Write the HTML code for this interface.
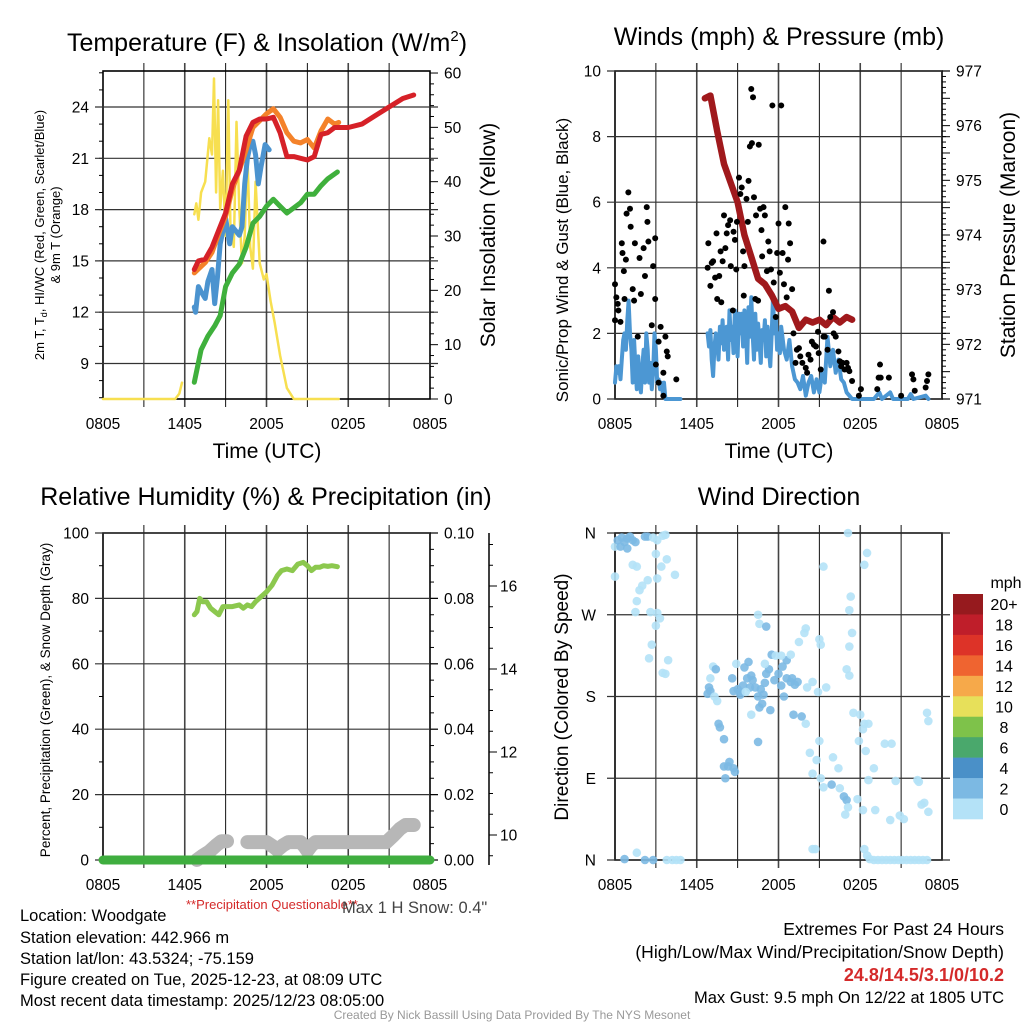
<!DOCTYPE html>
<html><head><meta charset="utf-8"><style>
html,body{margin:0;padding:0;background:#fff;}
svg{display:block;font-family:"Liberation Sans",Arial,sans-serif;}
</style></head><body>
<svg id="chart" width="1024" height="1024" viewBox="0 0 1024 1024" xmlns="http://www.w3.org/2000/svg">
<text x="267" y="51" font-size="25" text-anchor="middle">Temperature (F) &amp; Insolation (W/m<tspan font-size="15" dy="-10">2</tspan><tspan dy="10">)</tspan></text>
<text x="779" y="45" font-size="25" text-anchor="middle">Winds (mph) &amp; Pressure (mb)</text>
<text x="266" y="505" font-size="25" text-anchor="middle">Relative Humidity (%) &amp; Precipitation (in)</text>
<text x="779" y="505" font-size="25" text-anchor="middle">Wind Direction</text>
<text x="267" y="458" font-size="21" text-anchor="middle">Time (UTC)</text>
<text x="779" y="458" font-size="21" text-anchor="middle">Time (UTC)</text>
<text transform="translate(44,235) rotate(-90)" font-size="13" text-anchor="middle">2m T, T<tspan font-size="9" dy="3">d</tspan><tspan dy="-3">, HI/WC (Red, Green, Scarlet/Blue)</tspan></text>
<text transform="translate(60,235) rotate(-90)" font-size="13" text-anchor="middle">&amp; 9m T (Orange)</text>
<text transform="translate(495,235) rotate(-90)" font-size="21" text-anchor="middle">Solar Insolation (Yellow)</text>
<text transform="translate(568,260) rotate(-90)" font-size="17" text-anchor="middle">Sonic/Prop Wind &amp; Gust (Blue, Black)</text>
<text transform="translate(1015,235) rotate(-90)" font-size="21" text-anchor="middle">Station Pressure (Maroon)</text>
<text transform="translate(50,700) rotate(-90)" font-size="13.5" text-anchor="middle">Percent, Precipitation (Green), &amp; Snow Depth (Gray)</text>
<text transform="translate(568,697) rotate(-90)" font-size="19" text-anchor="middle">Direction (Colored By Speed)</text>
<g font-size="16.5">
<text x="20" y="921">Location: Woodgate</text>
<text x="20" y="943">Station elevation: 442.966 m</text>
<text x="20" y="964">Station lat/lon: 43.5324; -75.159</text>
<text x="20" y="985">Figure created on Tue, 2025-12-23, at 08:09 UTC</text>
<text x="20" y="1006">Most recent data timestamp: 2025/12/23 08:05:00</text>
</g>
<text x="186" y="909" font-size="13" fill="#d42a2a">**Precipitation Questionable**</text>
<text x="342" y="913" font-size="16.5" fill="#444">Max 1 H Snow: 0.4"</text>
<g font-size="17.5" text-anchor="end">
<text x="1004" y="935">Extremes For Past 24 Hours</text>
<text x="1004" y="958">(High/Low/Max Wind/Precipitation/Snow Depth)</text>
<text x="1004" y="981" font-weight="bold" fill="#d42a2a" font-size="18">24.8/14.5/3.1/0/10.2</text>
<text x="1004" y="1003" font-size="16.5">Max Gust: 9.5 mph On 12/22 at 1805 UTC</text>
</g>
<text x="512" y="1019" font-size="12" fill="#999" text-anchor="middle">Created By Nick Bassill Using Data Provided By The NYS Mesonet</text>
</svg>
<script>
// ---- data (time in hours since 0805 UTC) ----
const xTickLabels = ["0805","1405","2005","0205","0805"];
const tempTicks = [9,12,15,18,21,24];
const insolTicks = [0,10,20,30,40,50,60];
const redT = [6.7,7.0,7.5,8.0,8.5,9.0,9.5,10.0,10.5,11.0,11.5,12.0,12.5,13.0,13.5,14.0,14.5,15.0,15.5,16.0,16.5,17.0,18,19,20,21,22,22.8];
const redV = [14.5,15.0,15.1,15.8,16.8,17.8,19.5,20.3,22.3,23.1,23.3,23.3,23.4,22.5,21.1,21.1,21.0,20.9,21.1,22.4,22.5,22.8,22.8,23.0,23.5,24.0,24.5,24.7];
const orangeT = [6.7,7.5,8,8.5,9,9.5,10,10.5,11,11.5,12,12.5,13,13.5,14,14.5,15,15.5,16,16.5,17,17.3];
const orangeV = [14.3,14.9,15.5,16.6,17.6,19.2,20.3,21.5,22.8,23.2,23.6,23.9,23.4,22.5,22.0,21.9,22.1,21.6,22.6,23.3,23.0,23.1];
const blueT = [6.7,6.8,7.0,7.2,7.5,7.7,8.0,8.2,8.4,8.6,9.0,9.3,9.5,10.0,10.2,10.4,10.6,10.8,11.0,11.2,11.4,11.6,11.9,12.2];
const blueV = [12.3,12.0,13.5,13.2,12.8,13.8,14.5,12.5,14.0,16.0,17.5,16.0,17.0,16.5,17.0,19.5,21.0,21.8,22.0,21.2,19.5,20.5,21.8,21.5];
const greenT = [6.7,7.2,7.7,8.2,8.6,9.0,9.5,10.0,10.5,11.0,11.5,12.0,12.5,13.0,13.5,14.0,14.5,15.0,15.5,16.0,16.5,17.2];
const greenV = [7.9,9.8,10.6,11.2,11.8,13.5,14.3,14.8,15.8,17.2,17.6,18.2,18.6,18.2,17.8,18.1,18.4,18.9,18.9,19.4,19.8,20.2];
const insolT1 = [0,2,4,5.3,5.6,5.8];
const insolV1 = [0,0,0,0,1,3];
const insolT2 = [6.7,6.85,7.0,7.2,7.5,7.8,8.0,8.15,8.3,8.45,8.6,8.8,9.0,9.2,9.35,9.6,9.8,10.0,10.2,10.4,10.6,10.8,11.0,11.2,11.5,11.8,12.0,12.3,12.6,13.0,13.5,14.0,15,16,17.3];
const insolV2 = [34,36,33,38,40,48,45,59,38,55,35,42,30,55,32,28,51,35,25,30,45,28,24,40,25,22,23,18,14,8,2,0,0,0,0];
// winds panel
const windTicks = [0,2,4,6,8,10];
const presTicks = [971,972,973,974,975,976,977];
const presT = [6.6,7.0,7.5,8.0,8.5,9.0,9.5,10.0,10.5,11.0,11.5,12.0,12.5,13.0,13.5,14.0,14.5,15.0,15.5,16.0,16.5,17.0,17.4];
const presV = [976.5,976.55,975.9,975.3,974.95,974.6,974.0,973.6,973.2,973.1,972.9,972.65,972.7,972.6,972.3,972.45,972.4,972.45,972.35,972.5,972.4,972.5,972.45];
const windT1 = [0,0.1,0.2,0.3,0.4,0.5,0.6,0.7,0.8,0.9,1.0,1.1,1.2,1.3,1.4,1.5,1.6,1.7,1.8,1.9,2.0,2.1,2.2,2.3,2.4,2.5,2.6,2.7,2.8,2.9,3.0,3.1,3.2,3.3,3.4,3.5,3.6,3.7,3.9,4.5,4.8];
const windV1 = [0.5,1.0,0.8,1.0,0.6,1.2,1.8,2.0,1.5,2.4,3.0,2.0,1.5,0.5,1.8,1.0,0.3,1.3,0.5,0.2,1.0,1.5,0.5,2.0,1.5,0.5,1.1,0.3,0.8,2.0,1.5,0.5,0.6,0.3,0.5,0.2,0.5,0,0,0,0];
const windT2 = [6.8,6.9,7.0,7.1,7.2,7.3,7.4,7.5,7.6,7.7,7.8,7.9,8.0,8.1,8.2,8.3,8.4,8.5,8.6,8.7,8.8,8.9,9.0,9.1,9.2,9.3,9.4,9.5,9.6,9.7,9.8,9.9,10.0,10.1,10.2,10.3,10.4,10.5,10.6,10.7,10.8,10.9,11.0,11.1,11.2,11.3,11.4,11.5,11.6,11.7,11.8,11.9,12.0,12.1,12.2,12.4,12.6,12.8,13.0,13.2,13.4,13.6,13.8,14.0,14.2,14.4,14.6,14.8,15.0,15.2,15.4,15.6,15.8,16.0,16.2,16.4,16.6,16.8,17.0,17.2,17.4,18,19,19.4,19.6,20.2,20.4,21.5,21.7,21.9,22.8,23.0];
const windV2 = [2.0,1.6,2.1,1.2,0.7,1.6,2.0,1.8,1.2,2.2,1.7,2.4,1.5,2.0,2.2,1.2,2.7,1.8,2.2,1.4,2.7,2.3,1.3,2.6,2.0,2.6,1.6,2.7,2.2,1.1,2.8,1.9,3.1,2.0,1.2,2.6,1.5,2.3,1.8,1.1,2.1,1.8,2.4,1.3,2.2,1.5,1.0,2.0,3.1,2.0,2.5,1.5,2.0,1.4,2.2,1.5,1.2,1.8,1.0,0.6,0.5,0.3,0.7,0.1,0.5,0.7,0.2,0.6,0.2,0.8,0.5,1.9,1.0,1.5,0.8,1.2,0.6,0.5,0.2,0.1,0,0,0,0.2,0,0.2,0,0,0.15,0,0.1,0];
const gustT = [0,0,0.1,0.25,0.4,0.2,0.5,0.55,0.65,0.8,0.7,0.85,0.98,1.1,1.15,1.3,1.4,1.46,1.67,1.8,1.9,2.1,2.2,2.33,2.38,2.45,2.7,2.8,2.95,2.95,3.0,3.2,3.35,3.55,3.7,3.8,3.87,3.2,3.55,4.5,6.8,6.85,7.0,7.1,7.2,7.35,7.45,7.5,7.65,7.75,7.8,7.9,8.0,8.1,8.2,8.3,8.45,8.5,8.65,8.7,8.8,8.9,8.95,9.1,9.2,9.3,9.4,9.45,9.5,9.65,9.75,9.8,9.9,10.0,10.05,10.13,10.2,10.3,10.35,10.5,10.55,10.65,10.75,10.8,10.9,11.0,11.15,11.25,11.35,11.45,11.55,11.65,11.8,11.9,12.0,12.1,12.2,12.3,12.4,12.5,12.6,12.7,12.75,12.85,13.0,13.1,13.25,13.35,13.5,13.6,13.75,14.0,14.1,14.2,14.35,14.45,14.6,14.75,14.9,14.95,15.1,15.3,15.3,15.4,15.6,15.7,15.8,16.0,16.05,16.2,16.4,16.5,16.6,16.7,16.85,17.0,17.1,17.2,17.4,17.9,18.05,19.25,19.35,19.45,19.5,20.1,21.0,21.8,21.9,22.0,22.8,22.9,23.0];
const gustV = [3.5,2.4,3.1,2.7,2.35,2.9,4.75,4.45,3.9,4.25,3.05,5.65,6.3,5.8,5.25,3.35,3.0,4.75,1.9,4.3,3.2,4.6,3.75,5.85,5.4,4.8,2.25,4.05,4.9,3.05,1.05,1.75,2.2,0.8,1.9,1.45,1.3,0.5,0.1,0.6,4.0,4.75,3.45,4.15,4.2,3.7,5.05,3.05,3.75,4.5,2.95,4.2,5.6,4.6,5.05,5.3,5.45,4.05,2.7,5.1,4.85,3.95,5.4,6.75,6.25,6.45,4.5,3.15,4.05,6.1,5.4,6.65,7.7,9.45,7.8,9.2,6.15,3.05,5.6,3.0,7.75,5.8,5.15,4.35,5.85,5.6,3.9,4.8,4.5,3.95,8.95,3.55,2.5,4.45,5.35,3.85,8.95,4.45,3.5,5.85,3.1,4.25,5.35,4.75,3.35,2.0,1.1,1.5,1.55,1.3,1.1,0.95,0.8,1.35,1.2,1.75,1.65,1.6,2.05,1.4,0.9,4.8,1.9,1.9,1.5,3.3,2.5,2.65,2.0,1.9,1.45,1.15,1.0,1.1,0.9,1.1,0.95,0.85,0.55,0.1,0.3,0.3,0.65,1.05,0.65,0.65,0.1,0.75,0.6,0.25,0.35,0.55,0.75];
// RH / precip / snow panel
const rhTicks = [0,20,40,60,80,100];
const precipTicks = ["0.00","0.02","0.04","0.06","0.08","0.10"];
const snowTicks = [10,12,14,16];
const rhT = [6.7,6.9,7.1,7.3,7.6,7.9,8.2,8.5,8.8,9.1,9.5,10.0,10.3,10.6,10.9,11.2,11.6,12.0,12.4,12.8,13.1,13.5,13.9,14.3,14.7,15.0,15.3,15.6,15.9,16.2,16.5,16.8,17.2];
const rhV = [75,76,80,79,79,77,76,75,77.5,77.5,77.5,78,77,78,77.5,79,80.5,82,84,87,88.5,89,88.5,90.5,91,90,88.5,89.5,89.5,90,89.8,90,89.7];
const snowT1 = [6.9,7.3,7.8,8.3,8.7,9.1];
const snowV1 = [9.4,9.5,9.6,9.75,9.85,9.85];
const snowT2 = [10.6,11.5,12.0,12.5,12.8,13.2,13.6,14.5,14.8,15.0,15.3,15.6,17,19,20.8,21.3,21.8,22.2,22.8];
const snowV2 = [9.83,9.83,9.83,9.72,9.64,9.75,9.83,9.83,9.72,9.62,9.75,9.83,9.83,9.83,9.83,9.98,10.15,10.24,10.24];
const precipT = [0,24];
const precipV = [0,0];
// wind direction panel: time, direction (deg), speed (mph)
const dirLabels = ["N","E","S","W","N"];
const dirT = [0,0.2,0.5,0.7,0.9,1.1,1.3,1.5,0.4,0.9,2.2,2.4,2.8,3.5,3.7,3.1,1.3,1.6,0,2.0,1.8,2.4,3.1,3.0,3.4,3.8,4.4,1.6,1.5,2.6,3.1,3.3,3.0,2.7,2.5,3.9,3.5,3.7,0.7,1.6,2.2,2.8,3.8,4.2,4.5,4.8,6.8,6.9,7.0,7.3,7.0,7.2,7.4,7.5,8.6,8.7,9.0,9.2,9.4,9.5,9.8,10.0,10.1,10.3,10.5,10.7,11.1,11.3,11.5,11.7,12.0,12.3,12.6,12.9,12.2,12.4,11.0,10.9,9.7,9.9,10.6,10.8,11.4,13.0,13.2,13.4,12.6,12.9,11.0,8.9,9.2,9.6,13.1,13.7,10.5,10.6,11.1,13.5,13.9,14.0,15.0,15.1,11.8,12.2,14.1,14.5,14.9,15.5,7.6,7.7,8.0,8.4,8.0,8.3,8.7,8.8,8.1,10.5,10.0,14.0,15.0,14.3,14.8,16.0,16.4,14.5,15.1,15.3,15.9,16.5,16.8,17.0,17.1,16.9,17.8,18.2,19.1,18.6,19.0,19.8,20.3,20.6,20.2,21.2,20.9,22.2,22.3,22.7,22.5,23.0,22.9,23.0,17.5,18.0,18.3,18.2,17.9,18.4,18.6,17.0,17.2,17.2,17.4,17.2,17.3,15.3,18.3,18.5,17.1,14.5,14.7,18.3,18.5,18.7,19.0,19.3,19.6,19.9,20.2,20.5,20.8,21.1,21.4,21.7,22.0,22.3,22.6,22.9];
const dirDeg = [345,352,355,350,354,356,352,350,345,343,356,356,355,357,358,352,325,323,312,302,297,308,310,337,323,331,314,285,273,273,272,266,258,237,222,220,206,205,1,8,0,0,0,0,0,0,183,190,186,180,200,213,210,175,200,186,188,182,192,212,218,203,198,190,180,188,205,210,226,198,205,213,200,196,192,180,195,182,200,190,168,172,165,200,193,196,220,226,216,216,185,185,160,158,270,260,257,240,250,255,243,237,225,225,190,196,185,190,150,146,133,108,103,103,101,97,90,130,160,150,131,118,110,113,101,95,90,80,83,79,70,66,58,50,67,55,55,88,101,128,128,87,44,45,49,88,86,63,61,53,162,153,162,160,150,144,131,120,150,210,203,235,250,275,290,323,325,338,360,12,12,12,5,1,0,0,0,0,0,0,0,0,0,0,0,0,0,0,0];
const dirSpd = [1,3,3,3,3,3,3,3,3,3,3,3,1,1,1,1,1,1,1,1,1,1,1,1,1,1,1,1,1,1,1,1,1,1,1,1,1,1,3,1,3,3,1,1,1,1,3,3,3,1,1,1,3,1,3,3,3,3,3,3,3,3,3,3,3,3,3,3,3,3,3,3,3,3,3,3,3,3,3,3,3,3,3,3,3,3,3,1,1,1,3,1,3,3,1,1,3,1,1,1,1,1,1,1,1,1,1,1,3,3,3,3,3,3,3,3,3,3,1,1,1,1,1,1,1,1,1,1,3,1,3,3,1,1,1,1,1,1,1,1,1,1,1,1,1,1,1,1,1,1,1,1,1,1,1,1,1,1,1,1,1,1,1,1,1,1,1,1,1,1,1,1,1,1,1,1,1,1,1,1,1,1,1,1,1,1,1,1,1,1,1,1,1];
const cbLabels = ["20+","18","16","14","12","10","8","6","4","2","0"];
const cbColors = ["#961a1e","#bf1e2a","#dd3328","#ef6430","#f6a94a","#e7e05a","#7ec24a","#4aa86c","#4a90c8","#7cb9e3","#b4e2f7"];

// ---- helpers ----
const NS = "http://www.w3.org/2000/svg";
const svg = document.getElementById("chart");
function mk(tag, attrs, parent){
  const e = document.createElementNS(NS, tag);
  for (const k in attrs) e.setAttribute(k, attrs[k]);
  (parent || svg).appendChild(e);
  return e;
}
const HR = 13.625;
const TF = 15.5;
function xs(x0){ return t => x0 + t*HR; }
function pathD(T, V, fx, fy){ return T.map((t,i)=>(i?"L":"M")+fx(t).toFixed(1)+","+fy(V[i]).toFixed(1)).join(""); }

function frame(p, name){
  const g = mk("g", {});
  
  
  const fx = xs(p.x0);
  for (let h=3; h<24; h+=3){
    const l = mk("line", {x1:fx(h), x2:fx(h), y1:p.y0-8, y2:p.y1+8, stroke: h%6===0?"#444":"#111", "stroke-width": h%6===0?1.6:1}, g);
    
    
  }
  for (let i=0;i<xTickLabels.length;i++){
    const t = mk("text", {x:fx(i*6), y:p.y1+30, "font-size":TF, "text-anchor":"middle"}, g);
    t.textContent = xTickLabels[i];
    
    
  }
  const b = mk("rect", {x:p.x0, y:p.y0, width:p.x1-p.x0, height:p.y1-p.y0, fill:"none", stroke:"#000", "stroke-width":1.6}, g);
  
  
  return g;
}
function hgrid(g, p, y, label, side, dx){
  const l = mk("line", {x1:p.x0-8, x2:p.x1+(side?8:0), y1:y, y2:y, stroke:"#333", "stroke-width":1.2}, g);
  
  
  if (label!==null){
    const t = mk("text", {x:p.x0-(dx||14), y:y+5.5, "font-size":TF, "text-anchor":"end"}, g);
    t.textContent = label;
    
    
  }
}
function rightTicks(g, p, y, label, major){
  const l = mk("line", {x1:p.x1, x2:p.x1+(major?8:4), y1:y, y2:y, stroke:"#000", "stroke-width":1}, g);
  
  
  if (label!==null){
    const t = mk("text", {x:p.x1+14, y:y+5.5, "font-size":TF}, g);
    t.textContent = label;
    
    
  }
}
function leftMinor(g, p, y){
  const l = mk("line", {x1:p.x0-4, x2:p.x0, y1:y, y2:y, stroke:"#000", "stroke-width":1}, g);
  
  
}
function line(T, V, fx, fy, color, w, name){
  const e = mk("path", {d:pathD(T,V,fx,fy), fill:"none", stroke:color, "stroke-width":w, "stroke-linecap":"round", "stroke-linejoin":"round"});
  
  
  return e;
}

// ---- Panel 1: temperature ----
const P1 = {x0:103, x1:430, y0:71, y1:399};
const g1 = frame(P1, "temp");
const x1f = xs(P1.x0);
const yT = v => 107 + (24 - v)*17.1;
const yI = v => 399 - v*5.433;
for (let v=7; v<=26; v++) leftMinor(g1, P1, yT(v));
tempTicks.forEach(v => hgrid(g1, P1, yT(v), String(v), true));
for (let v=0; v<=60; v+=2) rightTicks(g1, P1, yI(v), v%10===0?String(v):null, v%10===0);
line(insolT1, insolV1, x1f, yI, "#f7df50", 2.5, "insolation-line-early");
line(insolT2, insolV2, x1f, yI, "#f7df50", 2.5, "insolation-line");
line(greenT, greenV, x1f, yT, "#3fb03c", 5, "dewpoint-line");
line(blueT, blueV, x1f, yT, "#4b93cf", 5, "windchill-line");
line(orangeT, orangeV, x1f, yT, "#f4822a", 5, "temp-9m-line");
line(redT, redV, x1f, yT, "#d62128", 5, "temp-2m-line");

// ---- Panel 2: winds ----
const P2 = {x0:615, x1:942, y0:71, y1:399};
const g2 = frame(P2, "wind");
const x2f = xs(P2.x0);
const yW = v => 399 - v*32.8;
const yP = v => 399 - (v-971)*54.67;
windTicks.forEach(v => hgrid(g2, P2, yW(v), String(v), true));
for (let v=971; v<=977.001; v+=0.1){
  const r = Math.round(v*10)/10;
  const maj = Math.abs(r-Math.round(r))<0.01;
  rightTicks(g2, P2, yP(r), maj?String(Math.round(r)):null, maj || Math.abs((r*10)%5)<0.01);
}
line(windT1, windV1, x2f, yW, "#4c97d3", 4, "wind-speed-line-early");
line(windT2, windV2, x2f, yW, "#4c97d3", 4, "wind-speed-line");
line(presT, presV, x2f, yP, "#a0191c", 6.5, "pressure-line");
for (let i=0;i<gustT.length;i++){
  const c = mk("circle", {cx:x2f(gustT[i]), cy:yW(gustV[i]), r:3, fill:"#000"});
  
  
}

// ---- Panel 3: RH / precip ----
const P3 = {x0:103, x1:430, y0:533, y1:860};
const g3 = frame(P3, "rh");
const x3f = xs(P3.x0);
const yR = v => 860 - v*3.27;
const yS = v => 835 - (v-10)*41.5;
for (let v=0; v<=100; v+=10) if (v%20) leftMinor(g3, P3, yR(v));
rhTicks.forEach(v => hgrid(g3, P3, yR(v), String(v), true));
for (let v=0; v<=100; v+=5) rightTicks(g3, P3, yR(v), v%20===0?precipTicks[v/20]:null, v%20===0);
const sa = mk("line", {x1:489, x2:489, y1:533, y2:865, stroke:"#000", "stroke-width":1.5});


for (let s=9.5; s<=17; s+=0.5){
  const y = yS(s);
  if (y < 533) continue;
  const maj = Math.abs(s%2)<0.01;
  const tk = mk("line", {x1:489, x2:489+(maj?8:4), y1:y, y2:y, stroke:"#000", "stroke-width":1});
  
  
}
snowTicks.forEach(s => {
  const t = mk("text", {x:500, y:yS(s)+5.5, "font-size":TF});
  t.textContent = String(s);
  
  
});
line(snowT1, snowV1, x3f, yS, "#b7b7b7", 14, "snow-depth-line-early");
line(snowT2, snowV2, x3f, yS, "#b7b7b7", 14, "snow-depth-line");
line(precipT, precipV, x3f, yR, "#3fae3f", 9, "precip-line");
line(rhT, rhV, x3f, yR, "#8cc84e", 5, "rh-line");

// ---- Panel 4: wind direction ----
const P4 = {x0:615, x1:942, y0:533, y1:860};
const g4 = frame(P4, "direction");
const x4f = xs(P4.x0);
const yD = d => 860 - d*327/360;
dirLabels.forEach((lab,i) => hgrid(g4, P4, yD(i*90), lab, true, 19));
for (let i=0;i<dirT.length;i++){
  const s = dirSpd[i];
  const col = s>=4 ? cbColors[8] : s>=2 ? cbColors[9] : cbColors[10];
  const c = mk("circle", {cx:x4f(dirT[i]), cy:yD(dirDeg[i]), r:4.3, fill:col, "fill-opacity":0.9});
  
  
}
const cbg = mk("g", {});


const mt = mk("text", {x:1006, y:588, "font-size":16, "text-anchor":"middle"}, cbg);
mt.textContent = "mph";


const boxH = 225/cbLabels.length;
for (let i=0;i<cbLabels.length;i++){
  const r = mk("rect", {x:953, y:594+i*boxH, width:30, height:boxH+0.3, fill:cbColors[i]}, cbg);
  
  
  const t = mk("text", {x:1004, y:594+i*boxH+boxH/2+6, "font-size":16, "text-anchor":"middle"}, cbg);
  t.textContent = cbLabels[i];
  
  
}
</script>
</body></html>
